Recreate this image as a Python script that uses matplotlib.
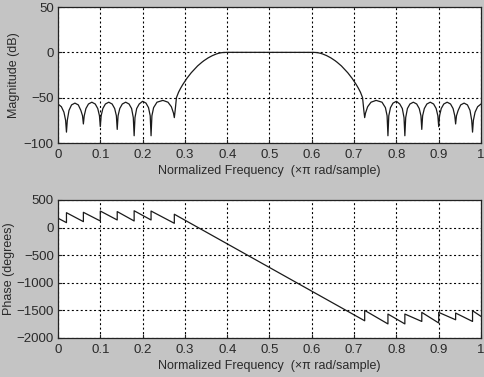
import matplotlib
matplotlib.use("Agg")
import matplotlib.pyplot as plt

# magnitude response (x in units of pi rad/sample)
mag_f = [0.000, 0.008, 0.014, 0.018, 0.020, 0.022, 0.026, 0.032, 0.040, 0.048, 0.054, 0.058,
         0.060, 0.062, 0.066, 0.072, 0.080, 0.088, 0.094, 0.098, 0.100, 0.102, 0.106, 0.112,
         0.120, 0.128, 0.134, 0.138, 0.140, 0.142, 0.146, 0.152, 0.160, 0.168, 0.174, 0.178,
         0.180, 0.182, 0.186, 0.192, 0.200, 0.208, 0.214, 0.218, 0.220, 0.222, 0.226, 0.234,
         0.248, 0.260, 0.268, 0.273, 0.275, 0.277, 0.280, 0.285, 0.290, 0.295, 0.300, 0.305,
         0.310, 0.315, 0.320, 0.325, 0.330, 0.335, 0.340, 0.345, 0.350, 0.355, 0.360, 0.365,
         0.370, 0.375, 0.380, 0.385, 0.390, 0.395, 0.400,
         0.600, 0.605, 0.610, 0.615, 0.620, 0.625, 0.630, 0.635, 0.640, 0.645, 0.650, 0.655,
         0.660, 0.665, 0.670, 0.675, 0.680, 0.685, 0.690, 0.695, 0.700, 0.705, 0.710, 0.715,
         0.720, 0.723, 0.725,
         0.727, 0.732, 0.740, 0.752, 0.766, 0.774, 0.778, 0.780, 0.782, 0.786, 0.792, 0.800,
         0.808, 0.814, 0.818, 0.820, 0.822, 0.826, 0.832, 0.840, 0.848, 0.854, 0.858, 0.860,
         0.862, 0.866, 0.872, 0.880, 0.888, 0.894, 0.898, 0.900, 0.902, 0.906, 0.912, 0.920,
         0.928, 0.934, 0.938, 0.940, 0.942, 0.946, 0.952, 0.960, 0.968, 0.974, 0.978, 0.980,
         0.982, 0.986, 0.992, 1.000]
mag_db = [-57, -60, -66, -75, -88, -75, -64, -58, -56, -58, -64, -70,
          -79, -70, -62, -57, -55, -57, -62, -70, -82, -70, -62, -57,
          -55, -57, -62, -70, -85, -70, -62, -57, -55, -57, -62, -72,
          -92, -72, -62, -57, -54, -56, -61, -70, -92, -70, -61, -55,
          -53, -55, -60, -67, -72, -64, -50, -44, -39.5, -35.5, -32, -28.5,
          -25.5, -22.5, -20, -17.5, -15, -13, -11, -9.2, -7.6, -6.1, -4.8, -3.6,
          -2.6, -1.7, -1.0, -0.5, -0.2, -0.05, 0,
          0, -0.05, -0.2, -0.5, -1.0, -1.7, -2.6, -3.6, -4.8, -6.1, -7.6, -9.2,
          -11, -13, -15, -17.5, -20, -22.5, -25.5, -28.5, -32, -35.5, -39.5, -44,
          -50, -64, -72,
          -67, -60, -55, -53, -55, -61, -70, -92, -70, -61, -56, -54,
          -57, -62, -72, -92, -72, -62, -57, -55, -57, -62, -70, -85,
          -70, -62, -57, -55, -57, -62, -70, -82, -70, -62, -57, -55,
          -57, -62, -70, -79, -70, -64, -58, -56, -58, -64, -75, -88,
          -75, -66, -60, -57]

# phase response vertices (repeated x = 180 degree jumps)
ph_f = [0.000, 0.020, 0.020, 0.060, 0.060, 0.100, 0.100, 0.140, 0.140, 0.180, 0.180,
        0.220, 0.220, 0.275, 0.275, 0.725, 0.725, 0.780, 0.780, 0.820, 0.820,
        0.860, 0.860, 0.900, 0.900, 0.940, 0.940, 0.980, 0.980, 1.000]
ph_deg = [170, 90, 270, 108, 277, 120, 300, 138, 290, 120, 305,
          138, 300, 78, 242, -1688, -1500, -1745, -1566, -1745, -1566,
          -1700, -1536, -1728, -1536, -1670, -1548, -1700, -1506, -1608]

xticks = [0, 0.1, 0.2, 0.3, 0.4, 0.5, 0.6, 0.7, 0.8, 0.9, 1]
xtick_labels = ["0", "0.1", "0.2", "0.3", "0.4", "0.5", "0.6", "0.7", "0.8", "0.9", "1"]
mag_ticks = [-100, -50, 0, 50]
ph_ticks = [-2000, -1500, -1000, -500, 0, 500]
xlabel = "Normalized Frequency  (\u00d7\u03c0 rad/sample)"

plt.rcParams["font.family"] = ["Liberation Sans", "DejaVu Sans"]
plt.rcParams["font.size"] = 9
txt = "#2a2a2a"

fig = plt.figure(figsize=(4.85, 3.77), dpi=100)
fig.patch.set_facecolor("#c4c4c4")

W, H = 485.0, 377.0
ax1 = fig.add_axes([58 / W, 1 - 143 / H, 423 / W, 136 / H])
ax2 = fig.add_axes([58 / W, 1 - 338 / H, 423 / W, 138 / H])


def style(ax, yticks):
    ax.set_facecolor("white")
    ax.set_xlim(0, 1)
    ax.set_xticks(xticks)
    ax.set_xticklabels(xtick_labels)
    ax.set_yticks(yticks)
    ax.set_ylim(yticks[0], yticks[-1])
    ax.grid(True, color="black", linestyle=(0, (1.8, 2.2)), linewidth=0.8)
    ax.tick_params(direction="in", length=3, colors="#222222", labelcolor=txt, pad=3)
    ax.tick_params(axis="x", pad=4, labelsize=9.5)
    ax.tick_params(axis="y", labelsize=9.5)
    for s in ax.spines.values():
        s.set_color("#222222")
        s.set_linewidth(0.9)
    ax.set_xlabel(xlabel, color=txt, labelpad=3)


ax1.plot(mag_f, mag_db, color="#1a1a1a", linewidth=0.9)
style(ax1, mag_ticks)
ax1.set_ylabel("Magnitude (dB)", color=txt, labelpad=3)

ax2.plot(ph_f, ph_deg, color="#1a1a1a", linewidth=0.9)
style(ax2, ph_ticks)
ax2.set_ylabel("Phase (degrees)", color=txt, labelpad=1)

fig.savefig("out.png", dpi=100, facecolor=fig.get_facecolor())
